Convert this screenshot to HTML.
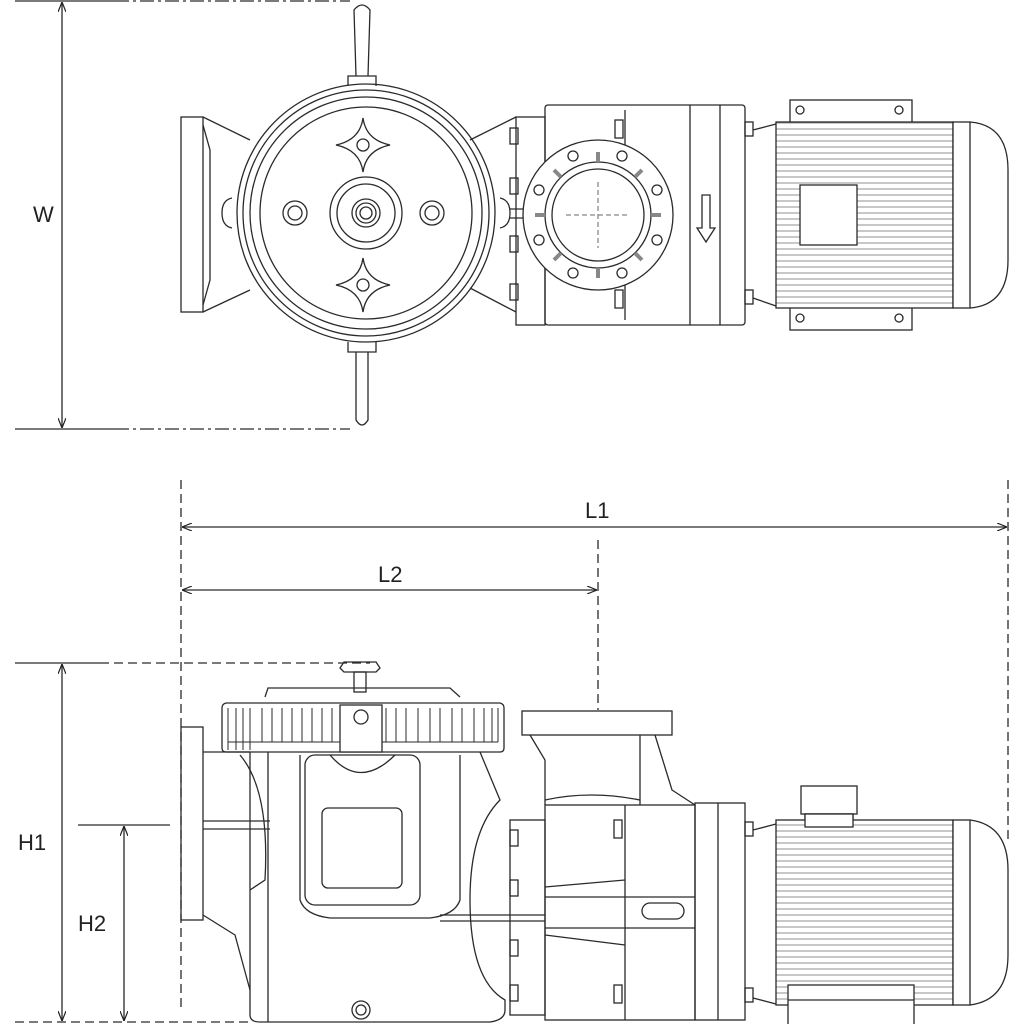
<!DOCTYPE html>
<html><head><meta charset="utf-8"><style>html,body{margin:0;padding:0;background:#fff}svg{display:block}</style></head>
<body>
<svg width="1024" height="1024" viewBox="0 0 1024 1024" xmlns="http://www.w3.org/2000/svg" font-family="Liberation Sans, sans-serif">
<defs>
<pattern id="fins" width="6" height="6" patternUnits="userSpaceOnUse"><rect width="6" height="6" fill="#fff"/><line x1="0" y1="3" x2="6" y2="3" stroke="#777" stroke-width="0.8"/></pattern>
<marker id="ar" markerWidth="10" markerHeight="8" refX="10" refY="4" orient="auto-start-reverse" markerUnits="userSpaceOnUse"><path d="M0,0 L10,4 L0,8" fill="none" stroke="#222" stroke-width="1.2"/></marker>
</defs>
<g stroke="#2a2a2a" stroke-width="1.3" fill="none">
<!-- ===== TOP VIEW ===== -->
<line x1="15" y1="1" x2="115" y2="1"/><line x1="115" y1="1" x2="350" y2="1" stroke-dasharray="14,4,3,4"/>
<line x1="15" y1="429" x2="115" y2="429"/><line x1="115" y1="429" x2="350" y2="429" stroke-dasharray="14,4,3,4"/>
<line x1="62" y1="2" x2="62" y2="428" marker-start="url(#ar)" marker-end="url(#ar)"/>
<rect x="181" y="117" width="22" height="195"/>
<path d="M203,117 L250,140 M203,312 L250,290 M203,125 L210,150 L210,280 L203,305"/>
<circle cx="366" cy="213" r="129"/><circle cx="366" cy="213" r="123"/><circle cx="366" cy="213" r="116"/><circle cx="366" cy="213" r="106"/>
<circle cx="366" cy="213" r="36"/><circle cx="366" cy="213" r="29"/><circle cx="366" cy="213" r="14"/><circle cx="366" cy="213" r="10"/><circle cx="366" cy="213" r="6"/>
<circle cx="295" cy="213" r="12"/><circle cx="295" cy="213" r="7"/><circle cx="432" cy="213" r="12"/><circle cx="432" cy="213" r="7"/>
<path d="M363,118 Q366,140 390,145 Q366,150 363,172 Q360,150 336,145 Q360,140 363,118 Z"/>
<circle cx="363" cy="145" r="6"/>
<path d="M363,258 Q366,280 390,285 Q366,290 363,312 Q360,290 336,285 Q360,280 363,258 Z"/>
<circle cx="363" cy="285" r="6"/>
<path d="M232,198 Q222,200 222,213 Q222,226 232,228"/><path d="M500,198 Q510,200 510,213 Q510,226 500,228"/>
<path d="M348,86 L348,76 L376,76 L376,86"/><path d="M356,76 L354,10 Q362,0 370,10 L368,76"/>
<path d="M348,342 L348,352 L376,352 L376,342"/><path d="M356,352 L356,420 Q362,430 368,420 L368,352"/>
<path d="M470,140 L516,117 M470,288 L516,312"/>
<rect x="516" y="117" width="29" height="208"/>
<rect x="510" y="128" width="8" height="16"/><rect x="510" y="178" width="8" height="16"/><rect x="510" y="236" width="8" height="16"/><rect x="510" y="284" width="8" height="16"/>
<line x1="510" y1="209" x2="530" y2="209"/><line x1="510" y1="218" x2="530" y2="218"/>
<rect x="545" y="105" width="200" height="220" rx="3"/>
<line x1="625" y1="110" x2="625" y2="320"/><line x1="690" y1="105" x2="690" y2="325"/><line x1="720" y1="105" x2="720" y2="325"/>
<rect x="615" y="120" width="8" height="18"/><rect x="615" y="290" width="8" height="18"/>
<circle cx="598" cy="215" r="75" fill="#fff"/><circle cx="598" cy="215" r="53"/><circle cx="598" cy="215" r="46"/>
<g stroke-dasharray="5,3" stroke="#888"><line x1="566" y1="215" x2="630" y2="215"/><line x1="598" y1="182" x2="598" y2="248"/></g>
<g fill="none"><circle cx="573" cy="156" r="5"/><circle cx="622" cy="156" r="5"/><circle cx="539" cy="190" r="5"/><circle cx="657" cy="190" r="5"/><circle cx="539" cy="240" r="5"/><circle cx="657" cy="240" r="5"/><circle cx="573" cy="273" r="5"/><circle cx="622" cy="273" r="5"/></g>
<g stroke="#888" stroke-width="4"><line x1="598" y1="152" x2="598" y2="162"/><line x1="598" y1="268" x2="598" y2="278"/><line x1="535" y1="215" x2="545" y2="215"/><line x1="651" y1="215" x2="661" y2="215"/><line x1="554" y1="170" x2="561" y2="177"/><line x1="642" y1="170" x2="635" y2="177"/><line x1="554" y1="260" x2="561" y2="253"/><line x1="642" y1="260" x2="635" y2="253"/></g>
<path d="M702,195 L702,228 L697,228 L706,242 L715,228 L710,228 L710,195 Z"/>
<rect x="745" y="122" width="8" height="14"/><rect x="745" y="290" width="8" height="14"/>
<path d="M753,130 L776,124 M753,298 L776,306"/>
<rect x="790" y="100" width="122" height="230"/>
<circle cx="800" cy="110" r="4"/><circle cx="899" cy="110" r="4"/><circle cx="800" cy="318" r="4"/><circle cx="899" cy="318" r="4"/>
<rect x="776" y="122" width="177" height="186" fill="url(#fins)"/>
<rect x="800" y="185" width="57" height="60" fill="#fff"/>
<rect x="953" y="122" width="17" height="186" fill="#fff"/>
<path d="M970,122 Q1008,125 1008,170 L1008,260 Q1008,305 970,308"/>
<!-- ===== SIDE VIEW ===== -->
<line x1="181" y1="480" x2="181" y2="1010" stroke-dasharray="9,5"/>
<line x1="1008" y1="480" x2="1008" y2="840" stroke-dasharray="9,5"/>
<line x1="182" y1="527" x2="1007" y2="527" marker-start="url(#ar)" marker-end="url(#ar)"/>
<line x1="182" y1="590" x2="597" y2="590" marker-start="url(#ar)" marker-end="url(#ar)"/>
<line x1="598" y1="540" x2="598" y2="710" stroke-dasharray="9,5"/>
<line x1="15" y1="663" x2="100" y2="663"/><line x1="100" y1="663" x2="370" y2="663" stroke-dasharray="9,5"/>
<line x1="78" y1="825" x2="170" y2="825"/>
<line x1="15" y1="1022" x2="250" y2="1022" stroke-dasharray="9,5"/>
<line x1="62" y1="664" x2="62" y2="1021" marker-start="url(#ar)" marker-end="url(#ar)"/>
<line x1="124" y1="826" x2="124" y2="1021" marker-start="url(#ar)" marker-end="url(#ar)"/>
<rect x="181" y="727" width="22" height="193"/>
<path d="M203,752 L250,752 M203,915 L235,935 L250,990"/>
<line x1="203" y1="821" x2="270" y2="821"/><line x1="203" y1="829" x2="270" y2="829"/>
<path d="M240,755 Q270,790 265,880 L250,890"/>
<path d="M265,697 L268,688 L450,688 L460,697"/>
<path d="M222,708 Q222,704 226,703 L500,703 Q504,704 504,708 L504,748 Q504,752 500,752 L226,752 Q222,752 222,748 Z"/>
<g stroke-width="1">
<path d="M228,708 v42 M236,708 v42 M243,708 v42 M250,708 v42 M262,708 v34 M272,708 v34 M282,708 v34 M292,708 v34 M302,708 v34 M312,708 v34 M322,708 v34 M332,708 v34 M342,708 v34 M386,708 v34 M396,708 v34 M406,708 v34 M418,708 v34 M430,708 v34 M440,708 v34 M452,708 v34 M462,708 v34 M474,708 v34 M484,708 v34 M492,708 v34 M498,708 v34"/>
<line x1="228" y1="742" x2="498" y2="742"/>
</g>
<rect x="340" y="705" width="42" height="47" fill="#fff"/>
<circle cx="361" cy="717" r="7"/>
<rect x="354" y="672" width="12" height="20"/><path d="M340,668 L344,662 L376,662 L380,668 L376,672 L344,672 Z"/>
<path d="M250,752 L250,1015 Q250,1022 260,1022 L490,1022 Q505,1020 505,1010 L505,1000 Q470,980 470,900 Q470,830 500,800 L480,752"/>
<path d="M268,752 L268,1022 M300,755 L300,900 Q305,915 330,918 L430,918 Q455,915 460,900 L460,755"/>
<rect x="305" y="755" width="115" height="150" rx="10"/>
<rect x="322" y="808" width="80" height="80" rx="6"/>
<path d="M330,755 Q360,790 395,755"/>
<circle cx="361" cy="1010" r="9"/><circle cx="361" cy="1010" r="5"/>
<line x1="440" y1="915" x2="545" y2="915"/><line x1="440" y1="921" x2="545" y2="921"/>
<rect x="510" y="820" width="35" height="195"/>
<rect x="510" y="830" width="8" height="16"/><rect x="510" y="880" width="8" height="16"/><rect x="510" y="940" width="8" height="16"/><rect x="510" y="985" width="8" height="16"/>
<rect x="522" y="711" width="150" height="24"/>
<path d="M530,735 L545,760 L545,805 M640,735 L640,805 M655,735 L672,790 L695,805"/>
<path d="M545,800 Q590,790 640,800"/>
<rect x="545" y="805" width="150" height="215"/>
<rect x="695" y="803" width="50" height="217"/><line x1="718" y1="803" x2="718" y2="1020"/>
<line x1="625" y1="805" x2="625" y2="1020"/>
<rect x="614" y="820" width="8" height="18"/><rect x="614" y="985" width="8" height="18"/>
<path d="M545,887 L625,880 M545,935 L625,945 M545,897 L695,897 M545,928 L695,928"/>
<rect x="642" y="903" width="42" height="16" rx="8"/>
<rect x="745" y="822" width="8" height="14"/><rect x="745" y="988" width="8" height="14"/>
<path d="M753,830 L776,824 M753,998 L776,1004"/>
<rect x="801" y="786" width="56" height="28"/><rect x="805" y="814" width="48" height="13"/>
<rect x="776" y="820" width="177" height="185" fill="url(#fins)"/>
<rect x="805" y="814" width="48" height="13" fill="#fff"/>
<rect x="953" y="820" width="17" height="185" fill="#fff"/>
<path d="M970,820 Q1008,825 1008,870 L1008,955 Q1008,1000 970,1005"/>
<rect x="788" y="985" width="126" height="40" fill="#fff"/><line x1="788" y1="1000" x2="914" y2="1000"/>
</g>
<g fill="#222" font-size="22">
<text x="33" y="222">W</text>
<text x="585" y="518">L1</text>
<text x="378" y="582">L2</text>
<text x="18" y="850">H1</text>
<text x="78" y="931">H2</text>
</g>
</svg>
</body></html>
